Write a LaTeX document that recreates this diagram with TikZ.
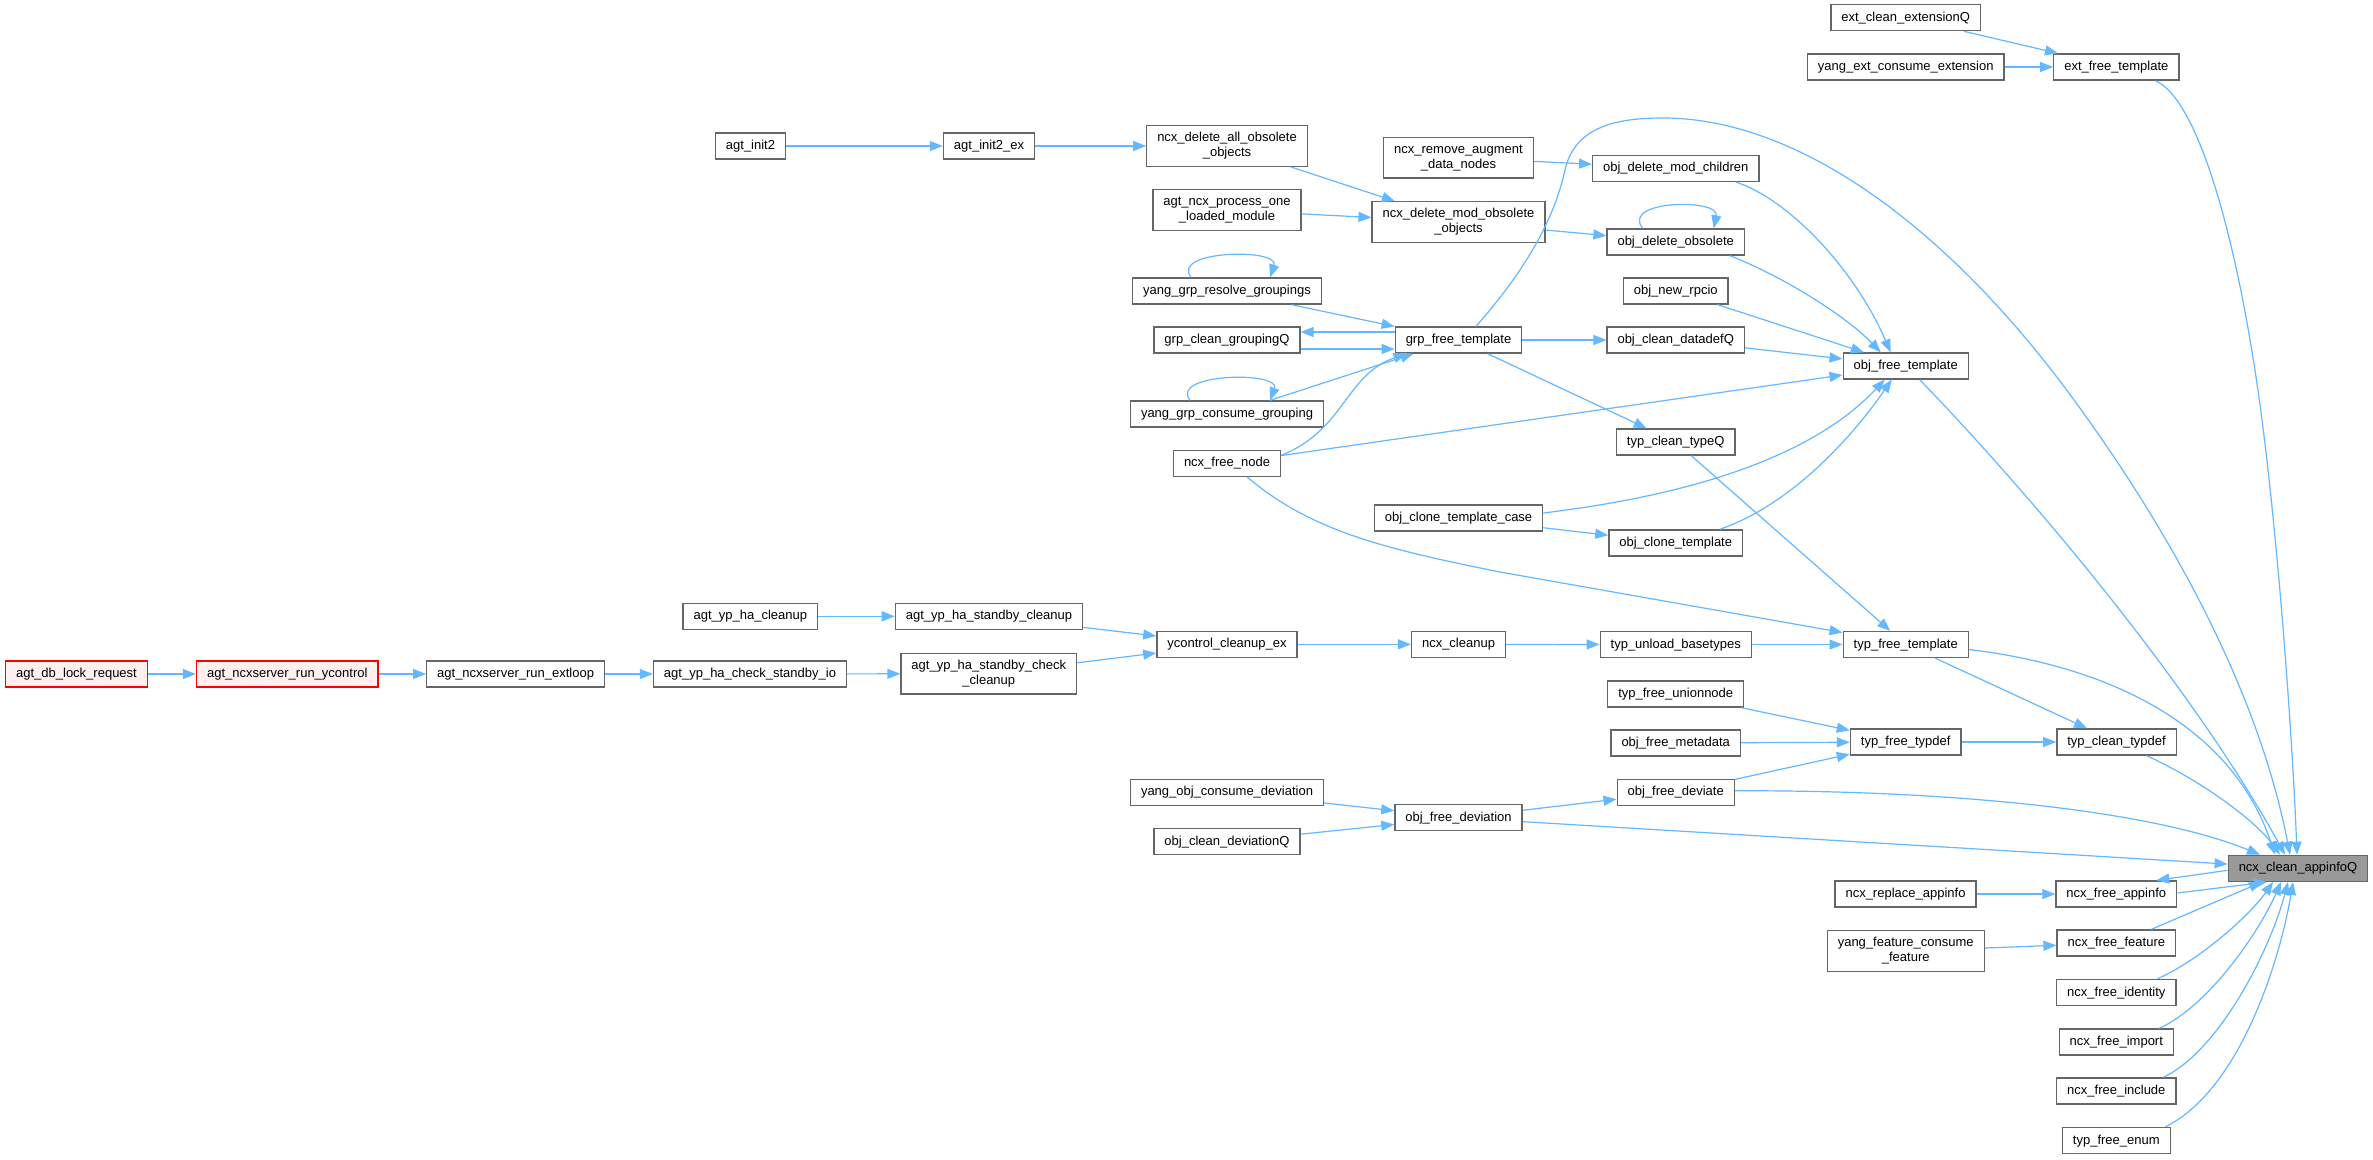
\documentclass[tikz,border=0pt]{standalone}
\usepackage{fontspec}
\setmainfont{Liberation Sans}
\usetikzlibrary{arrows.meta,calc}
\definecolor{nodegray}{HTML}{666666}
\definecolor{rootfill}{HTML}{999999}
\definecolor{redfill}{HTML}{FFF0F0}
\definecolor{edgeblue}{HTML}{63B8FF}
\newcommand\nodefont{\fontsize{13}{15}\selectfont}
\tikzset{
  box/.style={draw=nodegray, line width=1.3pt, fill=white, font=\nodefont, inner xsep=10.5pt, inner ysep=0pt},
  fn/.style={box, minimum height=26pt, text height=9.6pt, text depth=2.6pt},
  fn2/.style={box, minimum height=40.5pt, align=center},
  rootnode/.style={fill=rootfill},
  rednode/.style={draw=red, fill=redfill},
  call/.style={draw=edgeblue, line width=1.2pt, -{Triangle[length=13pt,width=10pt]}}
}
\begin{document}
\begin{tikzpicture}[x=1pt,y=-1pt]
\useasboundingbox[fill=white] (0,0) rectangle (2373,1159);
% nodes
\node[fn,rednode] (adbl) at (76.5,674) {agt\_db\_lock\_request};
\node[fn,rednode] (anry) at (287.3,674) {agt\_ncxserver\_run\_ycontrol};
\node[fn] (anre) at (515.6,674) {agt\_ncxserver\_run\_extloop};
\node[fn] (ayhcsi) at (750,674) {agt\_yp\_ha\_check\_standby\_io};
\node[fn] (ayhc) at (750.3,616.3) {agt\_yp\_ha\_cleanup};
\node[fn] (ayhsc) at (989,616.3) {agt\_yp\_ha\_standby\_cleanup};
\node[fn2] (ayhscc) at (988.8,673.7) {agt\_yp\_ha\_standby\_check\\\_cleanup};
\node[fn] (ai2) at (750.5,146) {agt\_init2};
\node[fn] (ai2e) at (989,146) {agt\_init2\_ex};
\node[fn2] (ndaoo) at (1227,146) {ncx\_delete\_all\_obsolete\\\_objects};
\node[fn2] (anpolm) at (1227,210) {agt\_ncx\_process\_one\\\_loaded\_module};
\node[fn] (ygrg) at (1227,291) {yang\_grp\_resolve\_groupings};
\node[fn] (gcgq) at (1227,340) {grp\_clean\_groupingQ};
\node[fn] (ygcg) at (1227,414) {yang\_grp\_consume\_grouping};
\node[fn] (nfn) at (1227,463.3) {ncx\_free\_node};
\node[fn] (ycce) at (1227,644.3) {ycontrol\_cleanup\_ex};
\node[fn] (yocd) at (1227,792.3) {yang\_obj\_consume\_deviation};
\node[fn] (ocdq) at (1227,841.8) {obj\_clean\_deviationQ};
\node[fn2] (nrad) at (1458.5,157.7) {ncx\_remove\_augment\\\_data\_nodes};
\node[fn2] (ndmoo) at (1458.5,222) {ncx\_delete\_mod\_obsolete\\\_objects};
\node[fn] (gft) at (1458.5,340) {grp\_free\_template};
\node[fn] (octc) at (1458.5,518) {obj\_clone\_template\_case};
\node[fn] (ncu) at (1458.5,644.3) {ncx\_cleanup};
\node[fn] (ofdn) at (1458.5,817.8) {obj\_free\_deviation};
\node[fn] (odmc) at (1675.7,168.3) {obj\_delete\_mod\_children};
\node[fn] (odo) at (1675.7,242) {obj\_delete\_obsolete};
\node[fn] (onr) at (1675.7,291) {obj\_new\_rpcio};
\node[fn] (ocdf) at (1675.7,340) {obj\_clean\_datadefQ};
\node[fn] (tctq) at (1675.7,442) {typ\_clean\_typeQ};
\node[fn] (oct) at (1675.7,543) {obj\_clone\_template};
\node[fn] (tub) at (1675.7,644.5) {typ\_unload\_basetypes};
\node[fn] (tfu) at (1675.7,694) {typ\_free\_unionnode};
\node[fn] (ofm) at (1675.7,743) {obj\_free\_metadata};
\node[fn] (ofdt) at (1675.7,792.3) {obj\_free\_deviate};
\node[fn] (ecq) at (1905.7,17.7) {ext\_clean\_extensionQ};
\node[fn] (yece) at (1905.7,67) {yang\_ext\_consume\_extension};
\node[fn] (oft) at (1905.7,366) {obj\_free\_template};
\node[fn] (tft) at (1905.7,644.5) {typ\_free\_template};
\node[fn] (tftd) at (1905.7,742) {typ\_free\_typdef};
\node[fn] (nra) at (1905.5,894) {ncx\_replace\_appinfo};
\node[fn2] (yfcf) at (1905.7,951) {yang\_feature\_consume\\\_feature};
\node[fn] (eft) at (2116.3,67) {ext\_free\_template};
\node[fn] (tctd) at (2116.5,742) {typ\_clean\_typdef};
\node[fn] (nfa) at (2116.3,894) {ncx\_free\_appinfo};
\node[fn] (nff) at (2116.3,943) {ncx\_free\_feature};
\node[fn] (nfid) at (2116.3,992.5) {ncx\_free\_identity};
\node[fn] (nfim) at (2116.3,1042) {ncx\_free\_import};
\node[fn] (nfinc) at (2116.3,1091) {ncx\_free\_include};
\node[fn] (tfe) at (2116.3,1140.5) {typ\_free\_enum};
\node[fn,rootnode] (ncaq) at (2298,868.3) {ncx\_clean\_appinfoQ};
% left chain
\draw[call] (adbl) -- (anry);
\draw[call] (anry) -- (anre);
\draw[call] (anre) -- (ayhcsi);
\draw[call] (ayhcsi) -- (ayhscc);
\draw[call] (ayhc) -- (ayhsc);
\draw[call] (ayhsc) -- (ycce);
\draw[call] (ayhscc) -- (ycce);
\draw[call] (ycce) -- (ncu);
\draw[call] (ncu) -- (tub);
\draw[call] (tub) -- (tft);
\draw[call] (ai2) -- (ai2e);
\draw[call] (ai2e) -- (ndaoo);
\draw[call] (ndaoo) -- (ndmoo);
\draw[call] (anpolm) -- (ndmoo);
\draw[call] (nrad) -- (odmc);
\draw[call] (ndmoo) -- (odo);
% self loops
\draw[call] ($(odo.north)+(-33,0)$) .. controls (1620,200) and (1720,198) .. ($(odo.north)+(38,0)$);
\draw[call] ($(ygrg.north)+(-36,0)$) .. controls (1170,250) and (1280,248) .. ($(ygrg.north)+(43,0)$);
\draw[call] ($(ygcg.north)+(-37,0)$) .. controls (1169,373) and (1281,371) .. ($(ygcg.north)+(43,0)$);
% grp_free_template group
\draw[call] (ygrg) -- (gft);
\draw[call] ($(gft.west)+(0,-8)$) -- ($(gcgq.east)+(0,-8)$);
\draw[call] ($(gcgq.east)+(0,9)$) -- ($(gft.west)+(0,9)$);
\draw[call] ($(ygcg.north)+(43,0)$) -- ($(gft.south)+(-45,0)$);
\draw[call] ($(nfn.east)+(0,-8)$) .. controls (1345,430) and (1345,375) .. ($(gft.south)+(-52,0)$);
\draw[call] (gft) -- (ocdf);
\draw[call] (gft) -- (tctq);
\draw[call] ($(gft.north)+(17.5,0)$) .. controls (1530,265) and (1555,215) .. (1565,170)
  .. controls (1575,125) and (1620,118) .. (1663,118)
  .. controls (1800,118) and (1950,230) .. (2074,400)
  .. controls (2180,545) and (2260,700) .. ($(ncaq.north)+(-8,0)$);
% obj_free_template inputs
\draw[call] ($(odmc.south)+(60,0)$) .. controls (1790,200) and (1855,270) .. ($(oft.north)+(-15,0)$);
\draw[call] ($(odo.south)+(54,0)$) .. controls (1780,275) and (1845,315) .. ($(oft.north)+(-25,0)$);
\draw[call] (onr) -- (oft);
\draw[call] (ocdf) -- (oft);
\draw[call] (nfn) -- (oft);
\draw[call] ($(octc.east)+(0,-5)$) .. controls (1650,500) and (1800,470) .. ($(oft.south)+(-21,0)$);
\draw[call] ($(oct.north)+(44,0)$) .. controls (1790,505) and (1850,440) .. ($(oft.south)+(-14,0)$);
\draw[call] (octc) -- (oct);
% typ_free_template inputs
\draw[call] (tctq) -- (tft);
\draw[call] ($(nfn.south)+(20,0)$) .. controls (1310,530) and (1380,548) .. (1500,572) -- ($(tft.west)+(0,-12)$);
% typdef
\draw[call] (tfu) -- (tftd);
\draw[call] (ofm) -- (tftd);
\draw[call] (ofdt) -- (tftd);
\draw[call] (tft) -- (tctd);
\draw[call] (tftd) -- (tctd);
% deviation
\draw[call] (yocd) -- (ofdn);
\draw[call] (ocdq) -- (ofdn);
\draw[call] (ofdn) -- (ofdt);
\draw[call] (ofdn) -- (ncaq);
% ext
\draw[call] (ecq) -- (eft);
\draw[call] (yece) -- (eft);
\draw[call] ($(eft.south)+(39,0)$) .. controls (2200,100) and (2240,250) .. (2262,420)
  .. controls (2280,560) and (2293,750) .. ($(ncaq.north)+(-1,0)$);
% into ncx_clean_appinfoQ from the top
\draw[call] ($(ofdt.east)+(0,-1.5)$) .. controls (1950,790) and (2150,810) .. ($(ncaq.north)+(-38,0)$);
\draw[call] ($(tft.east)+(0,5)$) .. controls (2100,665) and (2230,720) .. ($(ncaq.north)+(-23,0)$);
\draw[call] ($(tctd.south)+(30,0)$) .. controls (2200,780) and (2255,820) .. ($(ncaq.north)+(-18,0)$);
\draw[call] ($(oft.south)+(14,0)$) .. controls (2050,515) and (2200,700) .. ($(ncaq.north)+(-13,0)$);
% appinfo
\draw[call] (nra) -- (nfa);
\draw[call] ($(ncaq.west)+(0,2)$) -- ($(nfa.north east)+(-21,0)$);
\draw[call] ($(nfa.east)+(0,-1)$) -- ($(ncaq.south)+(-31,0)$);
\draw[call] (yfcf) -- (nff);
\draw[call] ($(nff.north)+(35,0)$) -- ($(ncaq.south)+(-36,0)$);
\draw[call] ($(nfid.north)+(41,0)$) .. controls (2200,960) and (2250,915) .. ($(ncaq.south)+(-25,0)$);
\draw[call] ($(nfim.north)+(43,0)$) .. controls (2210,1005) and (2260,930) .. ($(ncaq.south)+(-17,0)$);
\draw[call] ($(nfinc.north)+(47,0)$) .. controls (2220,1050) and (2270,950) .. ($(ncaq.south)+(-10,0)$);
\draw[call] ($(tfe.north)+(49,0)$) .. controls (2240,1090) and (2280,960) .. ($(ncaq.south)+(-5,0)$);
\end{tikzpicture}
\end{document}
